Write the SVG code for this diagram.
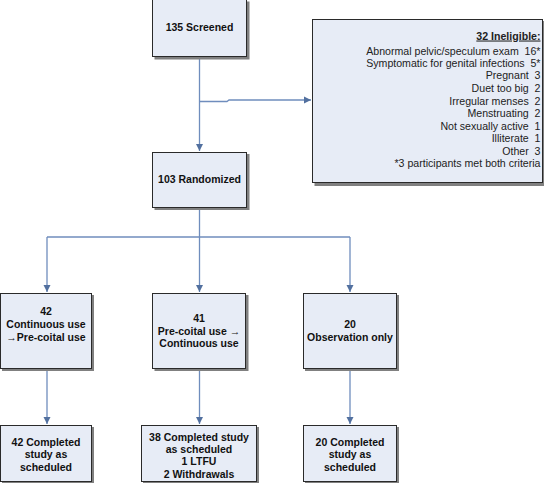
<svg xmlns="http://www.w3.org/2000/svg" width="544" height="483" viewBox="0 0 544 483">
<style>
.shadow{fill:#808080}
.box{fill:#e7ecf6;stroke:#2a2a2a;stroke-width:1}
.t{font-family:"Liberation Sans",Arial,sans-serif;font-size:10.5px;font-weight:bold;fill:#111;text-anchor:middle}
.r{font-family:"Liberation Sans",Arial,sans-serif;font-size:10.6px;fill:#222;text-anchor:end}
.line{fill:none;stroke:#6f8dbd;stroke-width:1.3}
</style>
<defs>
<marker id="arr" markerUnits="userSpaceOnUse" markerWidth="8" markerHeight="8" viewBox="0 0 8 8" refX="7" refY="4" orient="auto">
<path d="M0,0.5 L7,4 L0,7.5 Z" fill="#52709f"/>
</marker>
</defs>
<rect width="544" height="483" fill="#ffffff"/>
<g id="connectors">
<path class="line" d="M199.5,58 V151" marker-end="url(#arr)"/>
<path class="line" d="M199.5,101.5 H227 L229,100 H311" marker-end="url(#arr)"/>
<path class="line" d="M199.5,209 V237"/>
<path class="line" d="M47,237 H350"/>
<path class="line" d="M47,237 V292" marker-end="url(#arr)"/>
<path class="line" d="M199.5,237 V292" marker-end="url(#arr)"/>
<path class="line" d="M350,237 V292" marker-end="url(#arr)"/>
<path class="line" d="M47,371 V424" marker-end="url(#arr)"/>
<path class="line" d="M199.5,371 V424" marker-end="url(#arr)"/>
<path class="line" d="M350,371 V424" marker-end="url(#arr)"/>
</g>
<g id="screened">
<rect class="shadow" x="154.5" y="1.5" width="95" height="58"/>
<rect class="box" x="152.5" y="-0.5" width="94" height="57"/>
<text class="t" x="199.5" y="31">135 Screened</text>
</g>
<g id="ineligible">
<rect class="shadow" x="314.5" y="21" width="230" height="165"/>
<rect class="box" x="312.5" y="19.5" width="230" height="163"/>
<text class="r" x="540.5" y="39.5" font-weight="bold" font-size="10.2px" text-decoration="underline" fill="#111">32 Ineligible:</text>
<text class="r" x="540.5" y="54.5" xml:space="preserve">Abnormal pelvic/speculum exam  16*</text>
<text class="r" x="540.5" y="67" xml:space="preserve">Symptomatic for genital infections  5*</text>
<text class="r" x="540.5" y="79" xml:space="preserve">Pregnant  3</text>
<text class="r" x="540.5" y="92" xml:space="preserve">Duet too big  2</text>
<text class="r" x="540.5" y="104.5" xml:space="preserve">Irregular menses  2</text>
<text class="r" x="540.5" y="117" xml:space="preserve">Menstruating  2</text>
<text class="r" x="540.5" y="130" xml:space="preserve">Not sexually active  1</text>
<text class="r" x="540.5" y="142" xml:space="preserve">Illiterate  1</text>
<text class="r" x="540.5" y="155" xml:space="preserve">Other  3</text>
<text class="r" x="540.5" y="167">*3 participants met both criteria</text>
</g>
<g id="randomized">
<rect class="shadow" x="154.5" y="154" width="95" height="56"/>
<rect class="box" x="152.5" y="152.5" width="94" height="55"/>
<text class="t" x="199.5" y="183">103 Randomized</text>
</g>
<g id="arm1">
<rect class="shadow" x="2" y="295" width="92" height="76"/>
<rect class="box" x="0.5" y="293.5" width="91" height="75"/>
<text class="t" x="46" y="315">42</text>
<text class="t" x="46" y="328">Continuous use</text>
<text class="t" x="46" y="340.5">→Pre-coital use</text>
</g>
<g id="arm2">
<rect class="shadow" x="154.5" y="295" width="94" height="76"/>
<rect class="box" x="152.5" y="293.5" width="93" height="75"/>
<text class="t" x="199" y="321.5">41</text>
<text class="t" x="199" y="334.5">Pre-coital use →</text>
<text class="t" x="199" y="347">Continuous use</text>
</g>
<g id="arm3">
<rect class="shadow" x="305" y="295" width="94" height="76"/>
<rect class="box" x="303.5" y="293.5" width="93" height="75"/>
<text class="t" x="350" y="328">20</text>
<text class="t" x="350" y="340.5">Observation only</text>
</g>
<g id="done1">
<rect class="shadow" x="2" y="427" width="92" height="58"/>
<rect class="box" x="0.5" y="425.5" width="91" height="56"/>
<text class="t" x="46" y="445.5">42 Completed</text>
<text class="t" x="46" y="458">study as</text>
<text class="t" x="46" y="470.5">scheduled</text>
</g>
<g id="done2">
<rect class="shadow" x="143" y="427" width="116" height="58"/>
<rect class="box" x="141.5" y="425.5" width="115" height="56"/>
<text class="t" x="199" y="440.5">38 Completed study</text>
<text class="t" x="199" y="453">as scheduled</text>
<text class="t" x="199" y="465">1 LTFU</text>
<text class="t" x="199" y="477.5">2 Withdrawals</text>
</g>
<g id="done3">
<rect class="shadow" x="305" y="427" width="94" height="58"/>
<rect class="box" x="303.5" y="425.5" width="93" height="56"/>
<text class="t" x="350" y="445.5">20 Completed</text>
<text class="t" x="350" y="458">study as</text>
<text class="t" x="350" y="470.5">scheduled</text>
</g>
</svg>
